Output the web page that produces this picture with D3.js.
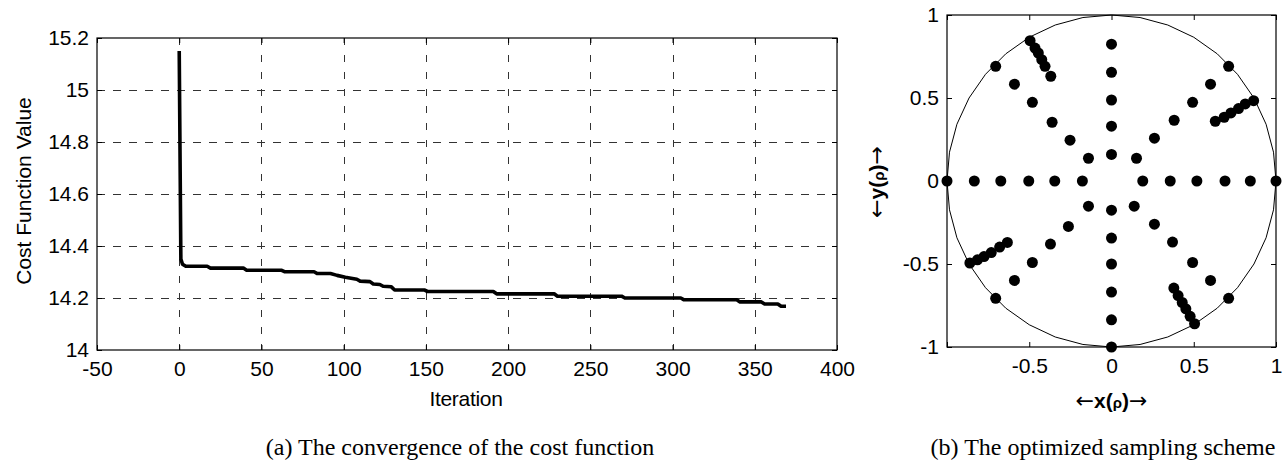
<!DOCTYPE html>
<html>
<head>
<meta charset="utf-8">
<script src="https://cdn.jsdelivr.net/npm/d3@7/dist/d3.min.js"></script>
<style>
    body { margin: 0; background: #fff; }
    text { font-family: "Liberation Sans", Arial, sans-serif; fill: #000; }
    .caption { font-family: "Liberation Serif", "Times New Roman", serif; font-size: 24px; }
    .arrow { font-family: "DejaVu Sans", sans-serif; font-weight: normal; }
</style>
</head>
<body>
<svg id="fig" width="1287" height="463"></svg>
<script>
// (a) convergence of the cost function
var iterations = [0, 1, 2, 4, 17, 19, 39, 41, 62, 64, 82, 84, 92, 96, 101, 108, 110, 116, 118, 122, 124, 129, 131,
    149, 151, 191, 193, 228, 230, 269, 271, 305, 307, 339, 341, 354, 356, 364, 366, 369];
var costValues = [15.15, 14.35, 14.33, 14.322, 14.322, 14.315, 14.315, 14.307, 14.307, 14.301, 14.301, 14.294, 14.294,
    14.287, 14.28, 14.272, 14.265, 14.263, 14.254, 14.252, 14.245, 14.243, 14.231, 14.231, 14.225, 14.225, 14.216,
    14.216, 14.207, 14.207, 14.2, 14.2, 14.193, 14.193, 14.185, 14.185, 14.177, 14.177, 14.168, 14.168];
var iterTicks = [-50, 0, 50, 100, 150, 200, 250, 300, 350, 400];
var costTicks = [14, 14.2, 14.4, 14.6, 14.8, 15, 15.2];

// (b) optimized sampling scheme
var sampleX = [
    -1, -0.834, -0.673, -0.503, -0.345, -0.177, 0.19, 0.357, 0.519, 0.69, 0.844, 1,
    0, 0, 0, 0, 0, 0, 0, 0, 0, 0, 0,
    0.152, 0.261, 0.381, 0.493, 0.602, 0.712,
    -0.14, -0.252, -0.361, -0.481, -0.59, -0.704,
    0.138, 0.261, 0.371, 0.493, 0.602, 0.712,
    -0.14, -0.262, -0.371, -0.481, -0.59, -0.704,
    -0.495, -0.465, -0.445, -0.424, -0.404, -0.369,
    0.631, 0.685, 0.726, 0.772, 0.813, 0.864,
    -0.861, -0.815, -0.775, -0.731, -0.68, -0.633,
    0.379, 0.405, 0.43, 0.452, 0.478, 0.505
];
var sampleY = [
    0, 0, 0, 0, 0, 0, 0, 0, 0, 0, 0, 0,
    0.824, 0.655, 0.488, 0.33, 0.16, -0.176, -0.344, -0.5, -0.669, -0.836, -1,
    0.137, 0.258, 0.366, 0.474, 0.583, 0.691,
    0.137, 0.246, 0.354, 0.474, 0.583, 0.691,
    -0.152, -0.26, -0.368, -0.491, -0.599, -0.707,
    -0.152, -0.274, -0.38, -0.491, -0.599, -0.707,
    0.845, 0.801, 0.771, 0.731, 0.691, 0.631,
    0.36, 0.384, 0.41, 0.436, 0.464, 0.484,
    -0.494, -0.475, -0.455, -0.431, -0.398, -0.37,
    -0.645, -0.69, -0.732, -0.77, -0.815, -0.86
];
var schemeTicksX = [-1, -0.5, 0, 0.5, 1];
var schemeLabelsX = ['', '-0.5', '0', '0.5', '1'];
var schemeTicksY = [-1, -0.5, 0, 0.5, 1];

var svg = d3.select('#fig');

// draws the box, inward ticks on all four sides and labels on left/bottom
function drawFrame(g, x, y, w, h, xTicks, yTicks, xFmt, yFmt) {
    g.append('g')
        .attr('transform', 'translate(0,' + h + ')')
        .call(d3.axisBottom(x).tickValues(xTicks).tickSizeInner(-5).tickSizeOuter(0).tickPadding(11).tickFormat(xFmt))
        .call(styleAxis);
    g.append('g')
        .call(d3.axisTop(x).tickValues(xTicks).tickSizeInner(-5).tickSizeOuter(0).tickFormat(''))
        .call(styleAxis);
    g.append('g')
        .call(d3.axisLeft(y).tickValues(yTicks).tickSizeInner(-5).tickSizeOuter(0).tickPadding(8).tickFormat(yFmt))
        .call(styleAxis);
    g.append('g')
        .attr('transform', 'translate(' + w + ',0)')
        .call(d3.axisRight(y).tickValues(yTicks).tickSizeInner(-5).tickSizeOuter(0).tickFormat(''))
        .call(styleAxis);
    g.append('rect')
        .attr('width', w)
        .attr('height', h)
        .attr('fill', 'none')
        .attr('stroke', '#000')
        .attr('stroke-width', 1.2);
}

function styleAxis(sel) {
    sel.select('.domain').remove();
    sel.selectAll('.tick line').attr('stroke', '#000');
    sel.selectAll('.tick text')
        .attr('font-size', '21px')
        .attr('font-family', '"Liberation Sans", Arial, sans-serif');
}

// label like  <-x(rho)->  with wide arrows and a small rho
function arrowLabel(t, letter) {
    t.append('tspan').attr('class', 'arrow').attr('font-size', '22px').text('\u2190');
    t.append('tspan').text(letter + '(');
    t.append('tspan').attr('font-size', '15px').text('\u03c1');
    t.append('tspan').text(')');
    t.append('tspan').attr('class', 'arrow').attr('font-size', '22px').text('\u2192');
}

// ---------- chart (a) ----------
var A = { left: 97, top: 38, width: 740, height: 312 };
var ga = svg.append('g').attr('transform', 'translate(' + A.left + ',' + A.top + ')');

var xa = d3.scaleLinear().domain([-50, 400]).range([0, A.width]);
var ya = d3.scaleLinear().domain([14, 15.2]).range([A.height, 0]);

// dashed grid
ga.append('g').selectAll('line')
    .data(iterTicks.slice(1, -1))
    .enter().append('line')
    .attr('x1', function(d) { return Math.round(xa(d)) + 0.5; })
    .attr('x2', function(d) { return Math.round(xa(d)) + 0.5; })
    .attr('y1', 0)
    .attr('y2', A.height)
    .attr('stroke', '#333')
    .attr('stroke-dasharray', '7,10');
ga.append('g').selectAll('line')
    .data(costTicks.slice(1, -1))
    .enter().append('line')
    .attr('y1', function(d) { return Math.round(ya(d)) + 0.5; })
    .attr('y2', function(d) { return Math.round(ya(d)) + 0.5; })
    .attr('x1', 0)
    .attr('x2', A.width)
    .attr('stroke', '#333')
    .attr('stroke-dasharray', '8,8');

drawFrame(ga, xa, ya, A.width, A.height, iterTicks, costTicks, String, String);

var curve = d3.line()
    .x(function(d) { return xa(d[0]); })
    .y(function(d) { return ya(d[1]); });

ga.append('path')
    .datum(iterations.map(function(d, i) { return [d, costValues[i]]; }))
    .attr('d', curve)
    .attr('fill', 'none')
    .attr('stroke', '#000')
    .attr('stroke-width', 3.6)
    .attr('stroke-linejoin', 'round');

ga.append('text')
    .attr('x', A.width * 0.5 - 1)
    .attr('y', 368)
    .attr('text-anchor', 'middle')
    .attr('font-size', '21px')
    .attr('letter-spacing', '-0.3px')
    .text('Iteration');

ga.append('text')
    .attr('transform', 'translate(-66,' + (A.height / 2 - 3) + ') rotate(-90)')
    .attr('text-anchor', 'middle')
    .attr('font-size', '21px')
    .text('Cost Function Value');

svg.append('text')
    .attr('class', 'caption')
    .attr('x', 460)
    .attr('y', 455)
    .attr('text-anchor', 'middle')
    .text('(a) The convergence of the cost function');

// ---------- chart (b) ----------
var B = { left: 947, top: 15, width: 329, height: 332 };
var gb = svg.append('g').attr('transform', 'translate(' + B.left + ',' + B.top + ')');

var xb = d3.scaleLinear().domain([-1, 1]).range([0, B.width]);
var yb = d3.scaleLinear().domain([-1, 1]).range([B.height, 0]);

drawFrame(gb, xb, yb, B.width, B.height, schemeTicksX, schemeTicksY,
    function(d, i) { return schemeLabelsX[i]; }, String);

// unit circle outline, coarse like the original
var ring = d3.range(0, 361, 10).map(function(a) {
    var r = a * Math.PI / 180;
    return [Math.cos(r), Math.sin(r)];
});
gb.append('path')
    .datum(ring)
    .attr('d', d3.line().x(function(d) { return xb(d[0]); }).y(function(d) { return yb(d[1]); }))
    .attr('fill', 'none')
    .attr('stroke', '#000')
    .attr('stroke-width', 1);

gb.selectAll('.dot')
    .data(sampleX)
    .enter()
    .append('circle')
    .attr('class', 'dot')
    .attr('cx', function(d) { return xb(d); })
    .attr('cy', function(d, i) { return yb(sampleY[i]); })
    .attr('r', 5.5)
    .attr('fill', '#000');

var xl = gb.append('text')
    .attr('x', B.width / 2)
    .attr('y', 393)
    .attr('text-anchor', 'middle')
    .attr('font-size', '21px')
    .attr('font-weight', 'bold');
arrowLabel(xl, 'x');

var yl = gb.append('text')
    .attr('transform', 'translate(-63,' + (B.height / 2 + 1) + ') rotate(-90)')
    .attr('text-anchor', 'middle')
    .attr('font-size', '21px')
    .attr('font-weight', 'bold');
arrowLabel(yl, 'y');

svg.append('text')
    .attr('class', 'caption')
    .attr('x', 1103)
    .attr('y', 455)
    .attr('text-anchor', 'middle')
    .text('(b) The optimized sampling scheme');
</script>
</body>
</html>
